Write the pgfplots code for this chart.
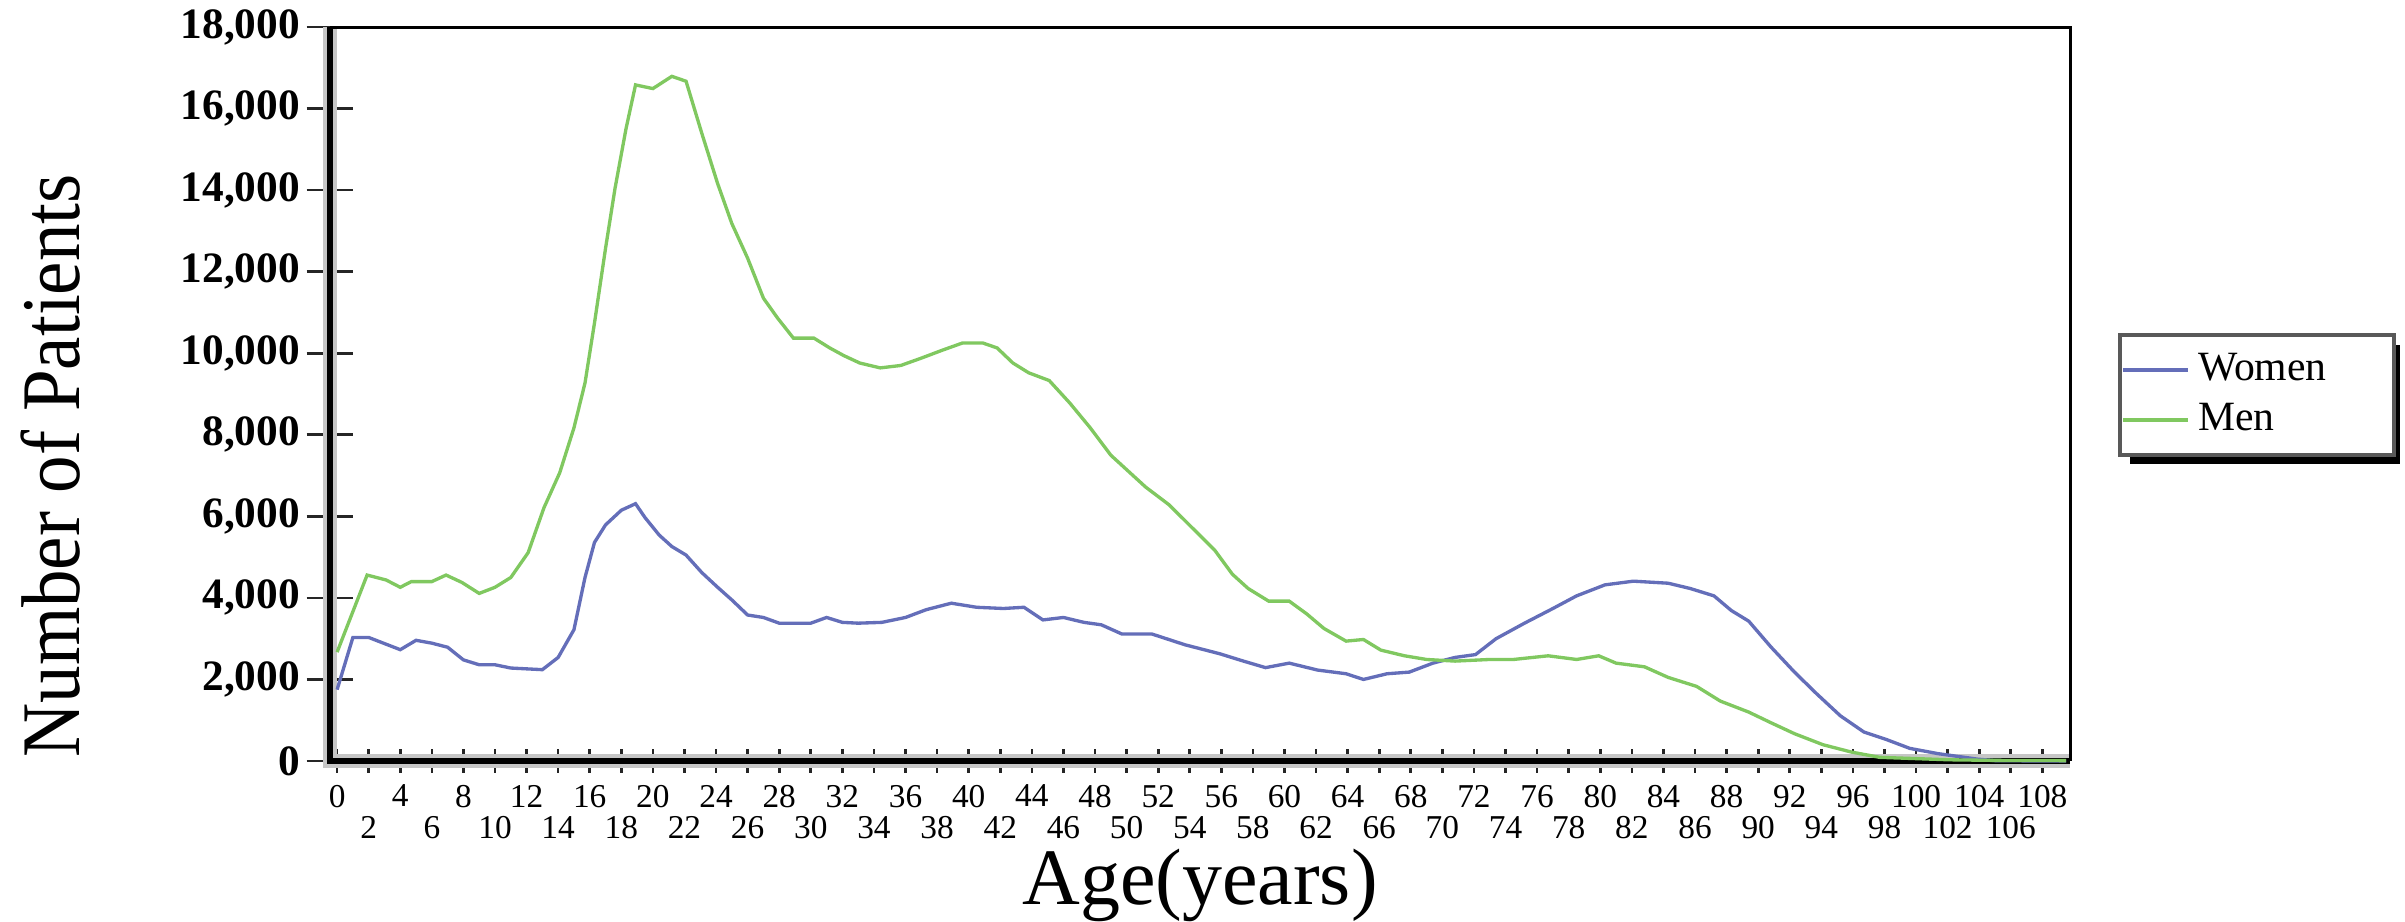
\documentclass[border=0pt]{standalone}
\usepackage{graphicx}
\usepackage{pgfplots}
\pgfplotsset{compat=1.18}
\usepackage{fontspec}
\setmainfont{Liberation Serif}
\definecolor{women}{RGB}{100,110,185}
\definecolor{men}{RGB}{128,200,96}

\begin{document}
\begin{tikzpicture}
\useasboundingbox (0,0) rectangle (721.5pt,276.3pt);
\begin{axis}[
  scale only axis, width=522pt, height=220.2pt,
  at={(99pt,48pt)}, anchor=south west,
  xmin=-0.45, xmax=109.75, ymin=0, ymax=18000,
  clip=false,
  axis line style={draw=none},
  xtick={0,4,...,108},
  extra x ticks={2,6,...,106},
  extra x tick style={xticklabel style={yshift=-9.5pt}},
  ytick={0,2000,...,18000},
  scaled y ticks=false,
  /pgf/number format/assume math mode=true,
  /pgf/number format/1000 sep={,},
  tick pos=left,
  tick align=center,
  major tick length=7pt,
  ytick style={/pgfplots/major tick length=14pt, black!85, line width=0.8pt},
  xtick style={black!85, line width=0.8pt},
  yticklabel style={font=\fontsize{13}{13}\selectfont\bfseries, inner xsep=0pt, xshift=-5.3pt},
  xticklabel style={font=\fontsize{10}{10}\selectfont, inner ysep=0pt, yshift=-3.5pt},
  xlabel={Age(years)},
  xlabel style={at={(0.5,-0.196)}, anchor=base, font=\fontsize{24}{24}\selectfont},
  ylabel={\scalebox{0.9}[1]{Number of Patients}},
  ylabel style={at={(-0.1437,0.402)}, anchor=base, font=\fontsize{25}{25}\selectfont},
  legend style={at={(1.0276,0.583)}, anchor=north west, draw=black!65, line width=1.2pt,
    fill=white, inner xsep=0.5pt, inner ysep=3pt, row sep=0pt, column sep=0pt,
    font=\fontsize{12.5}{12.5}\selectfont,
    nodes={inner xsep=2.4pt, inner ysep=1.5pt, text height=9pt, text depth=3pt, anchor=west}},
  legend image code/.code={\draw[#1] (0pt,0pt) -- (19.5pt,0pt);},
]
\draw[gray!45, line width=4pt] (rel axis cs:0,1) -- (rel axis cs:0,0) -- (rel axis cs:1,0);
\draw[black, line width=1.6pt] (rel axis cs:0,1) -- (rel axis cs:0,0) -- (rel axis cs:1,0);
\draw[black, line width=0.9pt] (rel axis cs:0,1) -- (rel axis cs:1,1) -- (rel axis cs:1,0);
\fill[black] (rel axis cs:1.0345,0.5668) rectangle (rel axis cs:1.1897,0.4046);

\addplot[women, line width=1pt] table {
x y
0 1750
1 3030
2 3030
3 2880
4 2730
5 2960
6 2890
7 2790
8 2480
9 2360
10 2360
11 2280
12 2260
13 2240
14 2540
15 3220
15.7 4500
16.3 5360
17 5790
18 6150
18.9 6310
19.5 5970
20.4 5540
21.2 5260
22.1 5050
23.1 4620
24.1 4260
25 3950
26 3580
27 3520
28 3380
29 3380
30 3380
31 3520
32 3400
33 3380
34.5 3400
36 3520
37.3 3710
38.9 3870
40.5 3770
42.2 3740
43.5 3770
44.7 3460
46 3520
47.3 3400
48.4 3340
49.7 3115
51.6 3115
53.7 2850
55.9 2630
57.4 2450
58.8 2290
60.3 2400
62.1 2230
63.9 2140
65 2000
66.5 2140
67.9 2180
69.4 2400
70.8 2540
72.1 2610
73.4 3000
75.2 3380
77 3740
78.5 4050
80.3 4320
82.1 4410
84.3 4360
85.7 4230
87.2 4050
88.3 3690
89.4 3430
90.8 2800
92.3 2180
93.7 1650
95.2 1110
96.7 710
98.1 530
99.6 310
101.4 180
103.9 45
105 10
108 0
109.5 0
};
\addlegendentry{\makebox[56pt][l]{Women}}

\addplot[men, line width=1pt] table {
x y
0 2670
1.9 4560
3.1 4440
4 4260
4.7 4400
6 4400
6.9 4560
7.9 4380
9 4110
10 4260
11 4500
12.1 5110
13.1 6210
14.1 7070
15 8170
15.7 9270
16.3 10740
17 12570
17.6 14040
18.3 15510
18.9 16580
20 16490
21.2 16790
22.1 16670
23.1 15390
24.1 14160
25 13180
26 12330
27 11350
27.9 10860
28.9 10370
30.2 10370
31.2 10130
32.1 9940
33.1 9760
34.4 9640
35.7 9700
37 9880
38.3 10070
39.6 10250
40.9 10250
41.8 10130
42.8 9760
43.8 9520
45.1 9330
46.4 8780
47.7 8170
49 7500
51.2 6720
52.7 6280
54.1 5740
55.6 5160
56.7 4580
57.7 4230
59 3920
60.3 3920
61.4 3610
62.5 3250
63.9 2940
65 2980
66.1 2720
67.6 2580
69 2490
70.8 2450
73 2490
74.5 2490
76.7 2580
78.5 2490
79.9 2580
81 2400
82.8 2310
84.3 2050
86.1 1830
87.6 1470
89.4 1200
90.8 940
92.3 670
94.1 400
95.9 220
97.7 90
99.9 60
102.1 30
105 15
109.5 10
};
\addlegendentry{\makebox[56pt][l]{Men}}
\end{axis}
\end{tikzpicture}
\end{document}
